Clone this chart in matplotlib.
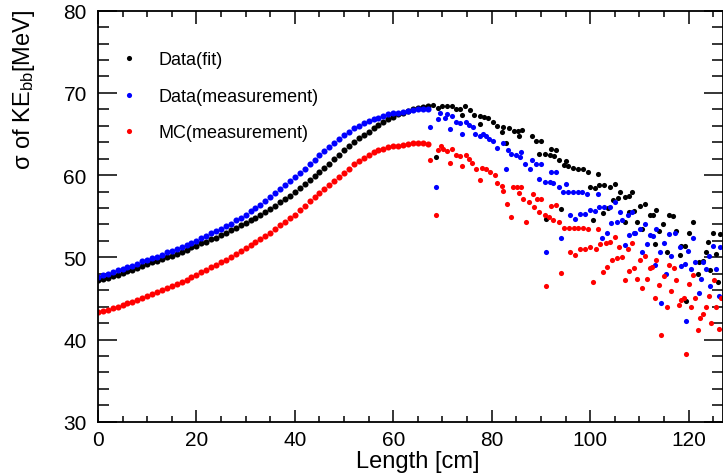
import matplotlib
matplotlib.use('Agg')
import matplotlib.pyplot as plt
from matplotlib.ticker import MultipleLocator

plt.rcParams['font.family'] = ['Liberation Sans', 'DejaVu Sans']
plt.rcParams['mathtext.fontset'] = 'custom'
plt.rcParams['mathtext.rm'] = 'Liberation Sans'
plt.rcParams['mathtext.it'] = 'Liberation Sans'

# smooth part, one point per cm
length_smooth = list(range(0, 68))
fit_smooth = [47.2, 47.4, 47.5, 47.7, 47.9, 48.1, 48.3, 48.5, 48.7, 49.0,
              49.2, 49.4, 49.6, 49.8, 50.0, 50.2, 50.4, 50.7, 50.9, 51.2,
              51.4, 51.7, 51.9, 52.2, 52.4, 52.7, 53.0, 53.3, 53.6, 53.9,
              54.2, 54.5, 54.8, 55.2, 55.5, 55.9, 56.3, 56.7, 57.1, 57.5,
              57.9, 58.4, 58.9, 59.4, 59.9, 60.4, 60.9, 61.4, 62.0, 62.5,
              63.0, 63.5, 64.0, 64.5, 64.9, 65.3, 65.7, 66.1, 66.5, 66.8,
              67.1, 67.4, 67.6, 67.8, 68.0, 68.2, 68.3, 68.4]
meas_smooth = [47.6, 47.8, 48.0, 48.2, 48.4, 48.6, 48.8, 49.0, 49.2, 49.5,
               49.7, 49.9, 50.1, 50.3, 50.6, 50.8, 51.0, 51.3, 51.5, 51.8,
               52.0, 52.3, 52.6, 52.9, 53.2, 53.5, 53.8, 54.1, 54.5, 54.8,
               55.2, 55.6, 56.0, 56.4, 56.9, 57.3, 57.8, 58.3, 58.8, 59.3,
               59.8, 60.3, 60.8, 61.4, 61.9, 62.4, 62.9, 63.4, 63.9, 64.4,
               64.9, 65.3, 65.7, 66.0, 66.3, 66.6, 66.8, 67.0, 67.2, 67.4,
               67.5, 67.6, 67.7, 67.8, 67.9, 68.0, 68.0, 68.1]
mc_smooth = [43.3, 43.5, 43.6, 43.8, 44.0, 44.2, 44.4, 44.6, 44.8, 45.1,
             45.3, 45.5, 45.8, 46.0, 46.3, 46.5, 46.8, 47.0, 47.3, 47.6,
             47.9, 48.2, 48.5, 48.8, 49.1, 49.4, 49.7, 50.1, 50.4, 50.8,
             51.1, 51.5, 51.9, 52.2, 52.6, 53.0, 53.4, 53.9, 54.3, 54.8,
             55.2, 55.7, 56.2, 56.8, 57.3, 57.8, 58.3, 58.8, 59.3, 59.8,
             60.3, 60.8, 61.3, 61.7, 62.1, 62.5, 62.8, 63.0, 63.2, 63.4,
             63.5, 63.6, 63.7, 63.8, 63.9, 63.9, 63.9, 63.8]

# scattered tail, Data(fit)
fit_tail_x = [68.1, 68.6, 69.1, 70.0, 70.9, 72.0, 72.8, 73.5, 74.0, 74.6, 75.5,
              76.5, 77.6, 77.7, 78.4, 79.3, 80.3, 81.1, 82.0, 82.3, 83.0, 83.5,
              84.5, 85.3, 85.6, 86.2, 88.1, 89.1, 89.7, 90.1, 90.8, 91.0, 91.8,
              92.1, 92.6, 93.1, 93.7, 94.0, 94.6, 95.2, 95.5, 96.5, 97.5, 98.5,
              99.6, 100.0, 100.6, 100.9, 101.5, 101.9, 102.6, 102.9, 103.6,
              104.0, 104.6, 105.0, 105.7, 106.0, 107.0, 107.0, 108.0, 108.0,
              108.6, 109.0, 109.5, 110.1, 110.6, 111.1, 112.1, 112.8, 113.1,
              113.4, 113.9, 114.8, 115.6, 116.1, 116.9, 117.5, 118.2, 118.5,
              119.2, 119.5, 120.0, 120.9, 121.9, 122.2, 122.9, 123.6, 123.9,
              124.3, 124.9, 125.5, 126.0, 126.3]
fit_tail_y = [68.5, 62.2, 68.2, 68.4, 68.4, 68.4, 68.1, 68.1, 67.3, 68.4, 67.9,
              67.3, 67.2, 66.2, 67.1, 66.9, 66.5, 66.0, 65.3, 65.8, 63.9, 65.7,
              65.4, 65.4, 64.7, 65.5, 64.7, 64.2, 62.6, 64.1, 62.6, 54.7, 62.4,
              63.2, 62.3, 63.1, 61.8, 55.9, 61.2, 61.7, 61.1, 60.9, 60.8, 60.7,
              60.4, 58.5, 54.6, 58.4, 60.1, 58.8, 55.4, 58.8, 56.0, 58.6, 57.0,
              58.9, 57.2, 57.9, 57.3, 54.3, 57.5, 55.5, 57.9, 55.6, 54.3, 56.3,
              53.4, 56.5, 55.1, 55.1, 51.6, 55.8, 53.2, 54.1, 50.6, 55.1, 55.0,
              53.2, 50.3, 51.4, 51.4, 44.7, 52.9, 54.3, 48.0, 49.4, 49.6, 50.6,
              51.9, 48.5, 53.0, 50.4, 47.0, 52.8]

# scattered tail, Data(measurement)
meas_tail_x = [67.4, 68.6, 69.1, 69.4, 70.5, 70.9, 71.5, 72.0, 72.8, 73.5, 74.0,
               74.7, 75.4, 76.2, 76.6, 77.6, 78.2, 78.8, 79.5, 80.3, 81.1, 82.2,
               83.0, 83.3, 84.0, 85.0, 85.7, 86.0, 86.7, 87.7, 88.1, 89.1, 89.7,
               90.1, 90.8, 91.1, 91.8, 92.1, 92.5, 93.1, 93.7, 94.0, 94.5, 95.0,
               95.5, 96.0, 96.5, 97.0, 97.5, 98.0, 98.4, 99.0, 99.4, 100.0,
               101.0, 101.5, 101.9, 102.5, 102.9, 103.4, 104.0, 104.3, 105.0,
               105.5, 106.0, 106.5, 107.0, 107.6, 108.0, 108.6, 109.0, 109.2,
               110.1, 110.6, 111.1, 111.5, 112.1, 112.8, 113.1, 113.4, 114.1,
               114.5, 115.1, 115.5, 116.1, 116.5, 117.2, 118.2, 118.5, 119.2,
               119.5, 119.9, 120.4, 120.9, 121.4, 122.1, 122.6, 122.9, 123.6,
               124.1, 124.4, 124.9, 125.6, 126.2, 126.4]
meas_tail_y = [65.9, 58.6, 66.8, 67.6, 67.0, 67.4, 65.6, 67.2, 66.5, 66.3, 65.0,
               66.5, 66.1, 65.8, 65.0, 64.8, 65.0, 64.8, 64.4, 64.1, 63.3, 63.9,
               60.7, 63.0, 62.6, 62.4, 62.2, 62.8, 61.3, 60.8, 61.9, 61.3, 59.5,
               61.3, 59.2, 50.7, 59.2, 60.4, 59.0, 60.4, 58.6, 52.3, 58.0, 58.9,
               58.0, 55.1, 58.0, 54.7, 58.0, 55.3, 58.0, 55.3, 57.7, 55.7,
               55.6, 57.7, 56.1, 52.4, 56.1, 53.0, 56.1, 54.2, 56.7,
               54.3, 55.5, 54.6, 51.5, 55.1, 52.7, 55.5, 53.0, 53.0,
               53.4, 50.7, 54.0, 51.6, 52.7, 52.6, 49.1, 53.5, 50.7,
               44.5, 51.7, 48.0, 52.8, 50.2, 52.9, 51.2, 49.0, 49.2,
               42.2, 50.8, 48.6, 52.3, 49.4, 45.6, 47.4, 49.4, 48.6,
               50.2, 46.5, 51.4, 48.6, 45.3, 51.2]

# scattered tail, MC(measurement)
mc_tail_x = [67.5, 68.6, 69.1, 69.6, 70.1, 70.9, 71.5, 72.0, 72.8, 73.5, 74.0,
             74.7, 75.4, 76.1, 76.8, 77.6, 78.1, 78.9, 79.7, 80.6, 81.1, 82.0,
             82.3, 83.1, 84.0, 84.3, 85.1, 85.6, 86.0, 86.4, 87.0, 87.6, 88.3,
             88.5, 89.2, 89.6, 90.1, 90.8, 91.1, 91.6, 92.1, 92.5, 93.1, 93.7,
             94.1, 94.6, 95.7, 96.0, 96.7, 97.0, 97.5, 98.0, 98.5, 99.0, 99.6,
             100.0, 100.6, 101.1, 101.5, 102.1, 102.6, 103.2, 103.5, 104.1,
             104.5, 105.1, 105.5, 105.9, 106.5, 107.1, 107.6, 108.0, 108.6,
             109.0, 109.5, 110.1, 110.6, 111.1, 111.5, 112.1, 112.6, 113.1,
             113.4, 113.9, 114.5, 115.0, 115.6, 116.0, 116.5, 117.0, 117.5,
             118.0, 118.4, 119.0, 119.5, 120.0, 120.5, 120.9, 121.4, 122.0,
             122.4, 122.9, 123.5, 124.1, 124.5, 125.1, 125.5, 126.1, 126.6]
mc_tail_y = [61.9, 55.1, 63.0, 63.6, 63.2, 62.9, 61.5, 63.2, 62.4, 62.3, 61.1,
             62.4, 62.0, 61.5, 60.7, 59.4, 60.9, 60.7, 60.4, 60.0, 59.1, 58.7,
             58.1, 56.5, 54.9, 58.5, 58.5, 57.8, 58.5, 57.1, 54.3, 56.7, 57.7,
             56.1, 57.1, 55.5, 57.1, 55.1, 46.5, 54.9, 56.3, 54.6, 56.4, 54.3,
             48.1, 53.6, 53.6, 50.7, 53.6, 50.3, 53.6, 51.0, 53.6, 51.0, 53.4,
             51.3, 47.0, 51.0, 53.5, 51.6, 48.2, 51.8, 48.8, 51.9,
             49.7, 52.5, 49.9, 51.2, 50.1, 47.2, 51.0, 48.3, 51.7,
             48.7, 47.4, 49.7, 46.3, 50.2, 47.4, 48.7, 48.8, 45.1,
             49.7, 46.6, 40.5, 47.7, 43.9, 49.1, 45.9, 48.7, 47.2,
             44.2, 44.8, 45.0, 38.2, 46.8, 44.0, 47.8, 45.0, 41.2,
             42.6, 43.1, 44.0, 45.3, 42.0, 47.2, 43.9, 41.3, 45.0]

labels = ['Data(fit)', 'Data(measurement)', 'MC(measurement)']
colors = ['black', 'blue', 'red']

fig = plt.figure(figsize=(7.23, 4.77), dpi=100)
ax = fig.add_axes([0.1355, 0.1138, 0.8645, 0.8616])

series = [(fit_smooth, fit_tail_x, fit_tail_y),
          (meas_smooth, meas_tail_x, meas_tail_y),
          (mc_smooth, mc_tail_x, mc_tail_y)]
handles = []
for (smooth, tx, ty), lab, c in zip(series, labels, colors):
    ax.plot(length_smooth, smooth, 'o', color=c, ms=4.4, mew=0)
    h, = ax.plot(tx, ty, 'o', color=c, ms=3.7, mew=0, label=lab)
    handles.append(h)

ax.set_xlim(0, 127)
ax.set_ylim(30, 80)
ax.xaxis.set_major_locator(MultipleLocator(20))
ax.xaxis.set_minor_locator(MultipleLocator(5))
ax.yaxis.set_major_locator(MultipleLocator(10))
ax.yaxis.set_minor_locator(MultipleLocator(2))
ax.tick_params(which='both', direction='in', top=True, right=True,
               labelsize=15, width=1.1)
ax.tick_params(axis='x', which='major', length=9, pad=6)
ax.tick_params(axis='x', which='minor', length=4.5)
ax.tick_params(axis='y', which='major', length=14, pad=8)
ax.tick_params(axis='y', which='minor', length=8)
for s in ax.spines.values():
    s.set_linewidth(1.3)

ax.set_xlabel('Length [cm]', fontsize=17)
ax.xaxis.set_label_coords((418 - 98) / 625, -0.068)
ax.set_ylabel(r'σ of KE$_{\mathregular{bb}}$[MeV]', fontsize=17, loc='top')
ax.yaxis.set_label_coords(-0.098, 1.005)

ax.legend(handles=handles, loc='upper left', bbox_to_anchor=(0.021, 0.923),
          frameon=False, fontsize=13, handlelength=1.0,
          handletextpad=1.1, labelspacing=1.08, borderpad=0)

fig.savefig('out.png', dpi=100)
